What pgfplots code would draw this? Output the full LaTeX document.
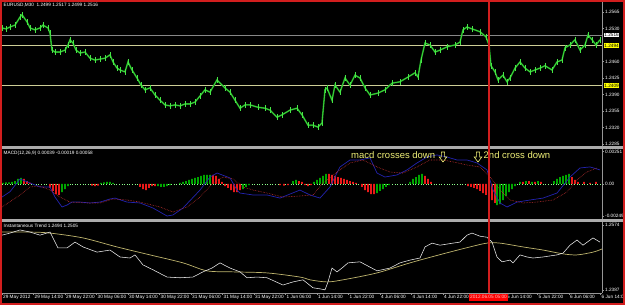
\documentclass[border=0pt]{standalone}
\usepackage{fontspec}
\setmainfont{Liberation Sans}
\usepackage{pgfplots}
\pgfplotsset{compat=1.18}
\definecolor{bull}{RGB}{70,230,70}
\definecolor{body}{RGB}{30,150,30}
\definecolor{axgray}{RGB}{150,150,150}
\definecolor{lvlgray}{RGB}{135,135,135}
\definecolor{khaki}{RGB}{205,205,150}
\definecolor{lblyellow}{RGB}{255,255,0}
\definecolor{macdblue}{RGB}{35,35,175}
\definecolor{sigred}{RGB}{200,50,50}
\definecolor{hgreen}{RGB}{0,165,0}
\definecolor{hred}{RGB}{235,25,25}
\definecolor{trendkhaki}{RGB}{190,180,110}
\definecolor{annyellow}{RGB}{240,240,120}
\definecolor{frame}{RGB}{210,30,30}
\newcommand{\tf}{\fontsize{4.7}{5.5}\selectfont}
\pgfplotsset{mtstyle/.style={scale only axis, width=600pt, xmin=2, xmax=602,
  axis y line*=right, axis line style={axgray},
  tick style={axgray}, major tick length=2pt, tick align=outside,
  scaled y ticks=false, scaled x ticks=false,
  yticklabel style={font=\tf, text=white, inner sep=1pt},
  clip mode=individual, anchor=south west}}
\begin{document}
\begin{tikzpicture}[x=1pt,y=1pt]
\useasboundingbox (0,0) rectangle (625,305);
\clip (0,0) rectangle (625,305);
\fill[black] (0,0) rectangle (625,305);

% ---------------- main price panel ----------------
\begin{axis}[mtstyle, axis x line=none, at={(2pt,159pt)}, height=144pt,
  ymin=1.2281, ymax=1.2586,
  ytick={1.2285,1.2320,1.2355,1.2390,1.2425,1.2460,1.2530,1.2565},
  yticklabels={1.2285,1.2320,1.2355,1.2390,1.2425,1.2460,1.2530,1.2565}]
\addplot[lvlgray, line width=0.8pt] coordinates {(2,1.2516) (602,1.2516)};
\addplot[khaki, line width=0.8pt] coordinates {(2,1.2494) (602,1.2494)};
\addplot[khaki, line width=0.8pt] coordinates {(2,1.2409) (602,1.2409)};
\addplot[body, line width=1.6pt,
  error bars/.cd, y dir=both, y fixed=0.0006, error mark=none,
  error bar style={bull, line width=0.6pt}] coordinates {
(2,1.2531) (6,1.2529) (10,1.2533) (15,1.2537) (20,1.2554) (22,1.2559) (27,1.2544) (30,1.2531) (35,1.2527) (40,1.2531) (43,1.2537) (48,1.2531) (50,1.2520) (52,1.2484) (55,1.2480) (60,1.2480) (65,1.2484) (68,1.2495) (70,1.2506) (73,1.2499) (76,1.2484) (80,1.2478) (85,1.2480) (90,1.2467) (95,1.2463) (100,1.2465) (105,1.2467) (110,1.2474) (113,1.2459) (117,1.2446) (120,1.2442) (125,1.2438) (128,1.2459) (132,1.2442) (137,1.2425) (141,1.2410) (145,1.2400) (150,1.2404) (155,1.2389) (160,1.2378) (165,1.2368) (170,1.2366) (175,1.2368) (180,1.2366) (185,1.2370) (190,1.2370) (195,1.2374) (200,1.2387) (205,1.2400) (210,1.2395) (217,1.2421) (225,1.2404) (230,1.2395) (235,1.2378) (240,1.2361) (245,1.2368) (250,1.2368) (258,1.2363) (265,1.2361) (270,1.2357) (277,1.2342) (282,1.2347) (290,1.2357) (297,1.2361) (302,1.2347) (308,1.2325) (313,1.2325) (318,1.2321) (322,1.2330) (325,1.2400) (327,1.2404) (332,1.2378) (335,1.2410) (340,1.2395) (345,1.2425) (350,1.2410) (355,1.2431) (360,1.2425) (365,1.2404) (370,1.2389) (378,1.2393) (385,1.2400) (392,1.2414) (400,1.2417) (408,1.2427) (415,1.2436) (418,1.2427) (421,1.2463) (425,1.2499) (430,1.2495) (435,1.2480) (440,1.2484) (447,1.2491) (455,1.2495) (460,1.2501) (463,1.2527) (467,1.2533) (472,1.2529) (480,1.2523) (486,1.2512) (489,1.2495) (491,1.2451) (495,1.2438) (498,1.2421) (503,1.2431) (507,1.2417) (510,1.2425) (515,1.2446) (520,1.2459) (525,1.2446) (530,1.2438) (535,1.2442) (540,1.2446) (545,1.2451) (552,1.2442) (557,1.2459) (562,1.2463) (565,1.2489) (570,1.2495) (575,1.2506) (580,1.2484) (585,1.2495) (588,1.2516) (592,1.2506) (596,1.2495) (600,1.2506)};
\addplot[bull, line width=0.5pt] coordinates {
(2,1.2531) (6,1.2529) (10,1.2533) (15,1.2537) (20,1.2554) (22,1.2559) (27,1.2544) (30,1.2531) (35,1.2527) (40,1.2531) (43,1.2537) (48,1.2531) (50,1.2520) (52,1.2484) (55,1.2480) (60,1.2480) (65,1.2484) (68,1.2495) (70,1.2506) (73,1.2499) (76,1.2484) (80,1.2478) (85,1.2480) (90,1.2467) (95,1.2463) (100,1.2465) (105,1.2467) (110,1.2474) (113,1.2459) (117,1.2446) (120,1.2442) (125,1.2438) (128,1.2459) (132,1.2442) (137,1.2425) (141,1.2410) (145,1.2400) (150,1.2404) (155,1.2389) (160,1.2378) (165,1.2368) (170,1.2366) (175,1.2368) (180,1.2366) (185,1.2370) (190,1.2370) (195,1.2374) (200,1.2387) (205,1.2400) (210,1.2395) (217,1.2421) (225,1.2404) (230,1.2395) (235,1.2378) (240,1.2361) (245,1.2368) (250,1.2368) (258,1.2363) (265,1.2361) (270,1.2357) (277,1.2342) (282,1.2347) (290,1.2357) (297,1.2361) (302,1.2347) (308,1.2325) (313,1.2325) (318,1.2321) (322,1.2330) (325,1.2400) (327,1.2404) (332,1.2378) (335,1.2410) (340,1.2395) (345,1.2425) (350,1.2410) (355,1.2431) (360,1.2425) (365,1.2404) (370,1.2389) (378,1.2393) (385,1.2400) (392,1.2414) (400,1.2417) (408,1.2427) (415,1.2436) (418,1.2427) (421,1.2463) (425,1.2499) (430,1.2495) (435,1.2480) (440,1.2484) (447,1.2491) (455,1.2495) (460,1.2501) (463,1.2527) (467,1.2533) (472,1.2529) (480,1.2523) (486,1.2512) (489,1.2495) (491,1.2451) (495,1.2438) (498,1.2421) (503,1.2431) (507,1.2417) (510,1.2425) (515,1.2446) (520,1.2459) (525,1.2446) (530,1.2438) (535,1.2442) (540,1.2446) (545,1.2451) (552,1.2442) (557,1.2459) (562,1.2463) (565,1.2489) (570,1.2495) (575,1.2506) (580,1.2484) (585,1.2495) (588,1.2516) (592,1.2506) (596,1.2495) (600,1.2506)};
\node[anchor=north west, text=white, font=\tf, inner sep=1.5pt] at (rel axis cs:0,1) {EURUSD,M30\ \ 1.2499 1.2517 1.2499 1.2516};
\node[anchor=west, fill=white, text=black, font=\tf, inner sep=0.7pt] at (axis cs:603.5,1.2516) {1.2516};
\node[anchor=west, fill=lblyellow, text=black, font=\tf, inner sep=0.7pt] at (axis cs:603.5,1.2494) {1.2494};
\node[anchor=west, fill=lblyellow, text=black, font=\tf, inner sep=0.7pt] at (axis cs:603.5,1.2409) {1.2409};
\end{axis}

% ---------------- MACD panel ----------------
\begin{axis}[mtstyle, axis x line=none, at={(2pt,86pt)}, height=70pt,
  ymin=-0.00271, ymax=0.00271,
  ytick={-0.00249,0,0.00251}, yticklabels={-0.00249,0.00,0.00251}]
\addplot[green!45!white, dotted, line width=0.6pt] coordinates {(2,0) (602,0)};
\addplot[ybar, bar width=1.6pt, bar shift=0pt, fill=hgreen, draw=none] coordinates {
(3,0.00008) (6,0.00012) (9,0.00012) (12,0.00016) (15,0.00023) (18,0.00039) (21,0.00047)
(62,-0.00062) (65,-0.00039) (68,-0.00016)
(101,0.00008) (104,0.00012) (107,0.00016) (110,0.00016) (113,0.00008)
(158,-0.00016) (161,-0.00023) (164,-0.00023) (167,-0.00016) (170,-0.00008)
(180,0.00008) (183,0.00016) (186,0.00023) (189,0.00031) (192,0.00039) (195,0.00047) (198,0.00054) (201,0.00062) (204,0.00070) (207,0.00070) (210,0.00070)
(243,-0.00039) (246,-0.00023) (249,-0.00008)
(293,0.00023) (296,0.00031)
(314,0.00016) (317,0.00031) (320,0.00047) (323,0.00062) (326,0.00078)
(377,-0.00070) (380,-0.00054) (383,-0.00039) (386,-0.00023) (389,-0.00008)
(410,0.00016) (413,0.00039) (416,0.00054) (419,0.00070) (422,0.00078)
(497,-0.00163) (500,-0.00155) (503,-0.00124) (506,-0.00093) (509,-0.00062) (512,-0.00039) (515,-0.00016)
(520,0.00016) (526,0.00023) (532,0.00016) (538,0.00023)
(554,0.00023) (557,0.00039) (560,0.00054) (563,0.00062) (566,0.00070) (569,0.00078)};
\addplot[ybar, bar width=1.6pt, bar shift=0pt, fill=hred, draw=none] coordinates {
(24,0.00039) (27,0.00023) (30,0.00008)
(50,-0.00031) (53,-0.00054) (56,-0.00078) (59,-0.00085)
(92,-0.00012) (95,-0.00016) (98,-0.00012)
(140,-0.00023) (143,-0.00039) (146,-0.00047) (149,-0.00031) (152,-0.00016) (155,-0.00016)
(213,0.00070) (216,0.00062) (219,0.00039) (222,0.00016)
(225,-0.00016) (228,-0.00031) (231,-0.00047) (234,-0.00062) (237,-0.00062) (240,-0.00047)
(280,-0.00008) (284,-0.00012) (288,-0.00008)
(299,0.00023) (302,0.00016)
(305,-0.00008) (308,-0.00016) (311,-0.00008)
(329,0.00078) (332,0.00070) (335,0.00062) (338,0.00054) (341,0.00047) (344,0.00039) (347,0.00031) (350,0.00023) (353,0.00016) (356,0.00008)
(362,-0.00023) (365,-0.00047) (368,-0.00062) (371,-0.00078) (374,-0.00078)
(425,0.00062) (428,0.00039) (431,0.00016)
(468,-0.00016) (471,-0.00023) (474,-0.00031) (477,-0.00039) (480,-0.00054) (483,-0.00070) (486,-0.00085) (489,-0.00101) (492,-0.00124) (495,-0.00147)
(523,0.00016) (529,0.00023) (535,0.00016) (541,0.00016)
(572,0.00054) (575,0.00031) (578,0.00016) (584,0.00016) (590,0.00008) (596,0.00016)};
\addplot[macdblue, line width=0.7pt] coordinates {
(2,-0.00101) (10,-0.00060) (20,0.00039) (30,0.00008) (40,-0.00023) (50,-0.00023) (55,-0.00101) (62,-0.00178) (67,-0.00163) (72,-0.00140) (80,-0.00140) (90,-0.00147) (100,-0.00140) (110,-0.00116) (115,-0.00109) (127,-0.00140) (140,-0.00147) (153,-0.00186) (167,-0.00248) (173,-0.00240) (183,-0.00186) (200,-0.00047) (210,0.00054) (217,0.00085) (230,0.00047) (237,-0.00047) (240,-0.00070) (253,-0.00085) (267,-0.00085) (280,-0.00109) (300,-0.00047) (310,-0.00085) (320,-0.00109) (330,-0.00023) (340,0.00132) (350,0.00186) (360,0.00186) (370,0.00202) (377,0.00085) (385,0.00054) (397,0.00070) (407,0.00109) (417,0.00163) (427,0.00209) (437,0.00225) (447,0.00209) (457,0.00186) (467,0.00186) (477,0.00163) (487,0.00109) (493,-0.00047) (500,-0.00147) (507,-0.00178) (517,-0.00140) (530,-0.00124) (543,-0.00109) (557,-0.00070) (570,0.00054) (580,0.00124) (590,0.00132) (600,0.00109)};
\addplot[sigred, densely dotted, line width=0.6pt] coordinates {
(2,-0.00178) (20,-0.00085) (30,-0.00023) (40,-0.00016) (50,-0.00047) (60,-0.00101) (70,-0.00140) (87,-0.00147) (100,-0.00147) (113,-0.00116) (127,-0.00124) (140,-0.00140) (160,-0.00178) (173,-0.00217) (187,-0.00178) (200,-0.00101) (213,0.00008) (223,0.00054) (233,0.00039) (243,-0.00023) (253,-0.00047) (267,-0.00070) (283,-0.00101) (300,-0.00093) (313,-0.00085) (323,0.00008) (337,0.00093) (350,0.00163) (363,0.00186) (377,0.00132) (390,0.00093) (403,0.00085) (417,0.00132) (430,0.00186) (443,0.00186) (453,0.00171) (467,0.00147) (480,0.00132) (490,0.00054) (500,-0.00047) (510,-0.00124) (523,-0.00147) (537,-0.00140) (553,-0.00124) (567,-0.00062) (577,0.00031) (587,0.00093) (597,0.00124)};
\node[anchor=north west, text=white, font=\tf, inner sep=1.5pt] at (rel axis cs:0,1) {MACD(12,26,9) 0.00039 -0.00019 0.00058};
\node[anchor=west, text=annyellow, font=\fontsize{9.5}{10}\selectfont, inner sep=0pt] at (axis cs:351,0.00225) {macd crosses down};
\node[anchor=west, text=annyellow, font=\fontsize{9.5}{10}\selectfont, inner sep=0pt] at (axis cs:483.5,0.00225) {2nd cross down};
\end{axis}

% ---------------- Instantaneous Trend panel ----------------
\begin{axis}[mtstyle, at={(2pt,12pt)}, height=71pt,
  ymin=1.2378, ymax=1.2583,
  axis x line*=bottom,
  ytick={1.2387,1.2574}, yticklabels={1.2387,1.2574},
  xtick={2,33.5,65,96.5,128,159.5,191,222.5,254,285.5,317,348.5,380,411.5,443,474.5,506,537.5,569,600.5},
  xticklabels={29 May 2012,29 May 14:00,29 May 22:00,30 May 06:00,30 May 14:00,30 May 22:00,31 May 06:00,31 May 14:00,31 May 22:00,1 Jun 06:00,1 Jun 14:00,1 Jun 22:00,4 Jun 06:00,4 Jun 14:00,4 Jun 22:00,{},5 Jun 14:00,5 Jun 22:00,6 Jun 06:00,6 Jun 14:00},
  xticklabel style={font=\tf, text=white, anchor=north west, inner sep=1pt, yshift=1pt}]
\addplot[trendkhaki, line width=0.7pt, smooth] coordinates {
(2,1.2554) (30,1.2554) (50,1.2551) (83,1.2537) (117,1.2511) (150,1.2488) (183,1.2465) (207,1.2442) (233,1.2439) (267,1.2436) (300,1.2424) (310,1.2416) (327,1.2410) (343,1.2416) (377,1.2436) (410,1.2465) (443,1.2491) (470,1.2511) (487,1.2522) (500,1.2522) (523,1.2511) (543,1.2502) (563,1.2491) (577,1.2488) (593,1.2496) (602,1.2505)};
\addplot[white!85!gray, line width=0.55pt] coordinates {
(2,1.2545) (10,1.2551) (20,1.2560) (30,1.2554) (40,1.2545) (50,1.2554) (53,1.2537) (58,1.2508) (67,1.2508) (75,1.2525) (83,1.2511) (97,1.2496) (110,1.2502) (120,1.2482) (130,1.2479) (135,1.2488) (143,1.2459) (153,1.2445) (167,1.2424) (180,1.2422) (193,1.2424) (203,1.2439) (212,1.2450) (220,1.2465) (230,1.2450) (240,1.2439) (247,1.2422) (257,1.2424) (267,1.2422) (283,1.2401) (293,1.2410) (303,1.2416) (313,1.2393) (320,1.2390) (325,1.2387) (328,1.2410) (332,1.2450) (337,1.2439) (342,1.2450) (348,1.2465) (360,1.2468) (377,1.2442) (390,1.2450) (400,1.2465) (410,1.2473) (420,1.2479) (425,1.2511) (432,1.2522) (440,1.2516) (453,1.2522) (460,1.2525) (467,1.2545) (472,1.2551) (480,1.2542) (487,1.2539) (492,1.2525) (497,1.2482) (502,1.2468) (510,1.2473) (513,1.2465) (520,1.2488) (527,1.2482) (533,1.2479) (543,1.2482) (557,1.2488) (563,1.2493) (570,1.2516) (577,1.2531) (583,1.2516) (593,1.2537) (600,1.2525)};
\node[anchor=north west, text=white, font=\tf, inner sep=1.5pt] at (rel axis cs:0,1) {Instantaneous Trend 1.2494 1.2505};
\end{axis}

% separators, marker line, annotation arrows, time box, window frame
\draw[axgray!80, line width=2.2pt] (0,157.5) -- (625,157.5);
\draw[axgray!80, line width=2.2pt] (0,84.5) -- (625,84.5);
\draw[frame, line width=1.3pt] (489,12) -- (489,305);
\foreach \ax in {443,478}{
  \draw[annyellow, line width=0.6pt, shift={(\ax,148)}]
    (-1.6,5) -- (1.6,5) -- (1.6,0) -- (3.8,0) -- (0,-5) -- (-3.8,0) -- (-1.6,0) -- cycle;
}
\node[fill=red, text=white!75!red, font=\tf, inner sep=0.8pt, minimum width=35pt, minimum height=7pt] at (488.5,7.8) {2012.06.05 05:00};
\draw[frame, line width=2pt] (1,1) rectangle (624,304);
\end{tikzpicture}
\end{document}
